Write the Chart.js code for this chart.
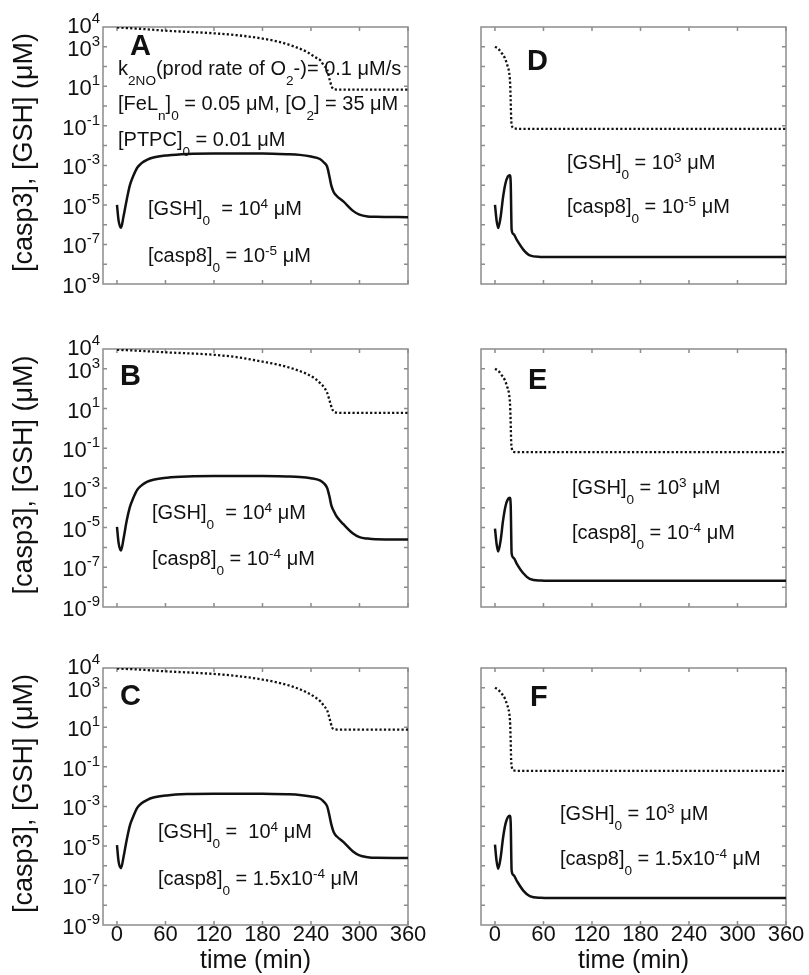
<!DOCTYPE html>
<html>
<head>
<meta charset="utf-8">
<script src="https://cdn.jsdelivr.net/npm/chart.js@4.4.1/dist/chart.umd.min.js"></script>
<style>
  html, body { margin: 0; padding: 0; background: #fff; }
  body { width: 809px; height: 975px; position: relative; overflow: hidden; }
  canvas { position: absolute; }
</style>
</head>
<body>
<script>
// time grids (min)
const tLongCasp = [0, 2, 5, 8, 12, 16, 20, 25, 30, 37, 45, 62, 87, 120, 180, 210, 226, 240, 251, 256, 260, 263, 265, 268, 272, 280, 292, 300, 310, 320, 360];
const tLongGsh = [0, 30, 60, 90, 120, 150, 180, 200, 220, 235, 245, 252, 256, 260, 263, 266, 269, 280, 320, 360];
const tShortCasp = [0, 2, 4, 7, 10, 13, 16, 18.3, 19.4, 20.6, 23, 27, 35, 43, 56, 70, 360];
const tShortGsh = [0, 4, 8, 12, 15, 17.5, 18.8, 19.4, 20, 21, 23, 30, 360];

// [casp3] (uM), solid lines
const casp3A = [1e-5, 1.6e-6, 7e-7, 2.5e-6, 1.8e-5, 1e-4, 2.8e-4, 7.6e-4, 1.26e-3, 1.9e-3, 2.5e-3, 3.2e-3, 3.8e-3, 4e-3, 4e-3, 3.7e-3, 3.4e-3, 2.8e-3, 2.1e-3, 1.4e-3, 8.5e-4, 2.5e-4, 1e-4, 4.5e-5, 2.8e-5, 1.5e-5, 5e-6, 3.2e-6, 2.6e-6, 2.5e-6, 2.4e-6];
const casp3B = [1.1e-5, 1.7e-6, 7e-7, 2.6e-6, 2.2e-5, 1.1e-4, 3e-4, 8e-4, 1.3e-3, 2e-3, 2.6e-3, 3.3e-3, 3.8e-3, 4e-3, 4e-3, 3.8e-3, 3.6e-3, 3.1e-3, 2.4e-3, 1.7e-3, 1e-3, 3.5e-4, 1.4e-4, 7e-5, 3.5e-5, 1.5e-5, 5e-6, 3.3e-6, 2.8e-6, 2.6e-6, 2.5e-6];
const casp3C = [1.1e-5, 1.6e-6, 7.5e-7, 2.6e-6, 2e-5, 1.1e-4, 3e-4, 8.5e-4, 1.4e-3, 2.1e-3, 2.8e-3, 3.6e-3, 4.2e-3, 4.4e-3, 4.4e-3, 4.1e-3, 3.8e-3, 3.2e-3, 2.5e-3, 1.7e-3, 1e-3, 3.2e-4, 1.3e-4, 5e-5, 3e-5, 1.6e-5, 5.2e-6, 3.3e-6, 2.7e-6, 2.5e-6, 2.45e-6];
const casp3D = [1e-5, 1.6e-6, 6.8e-7, 2.5e-6, 2.5e-5, 1.26e-4, 2.8e-4, 3.2e-4, 1.5e-4, 5.6e-7, 3.3e-7, 1.7e-7, 5.5e-8, 2.8e-8, 2.35e-8, 2.3e-8, 2.35e-8];
const casp3E = [9e-6, 1.5e-6, 6.3e-7, 2.3e-6, 2.3e-5, 1.2e-4, 2.7e-4, 3.2e-4, 1.5e-4, 5e-7, 3e-7, 1.5e-7, 5e-8, 2.6e-8, 2.15e-8, 2.1e-8, 2.1e-8];
const casp3F = [1.15e-5, 1.7e-6, 7e-7, 2.6e-6, 2.6e-5, 1.3e-4, 2.9e-4, 3.4e-4, 1.6e-4, 5.6e-7, 3.3e-7, 1.7e-7, 5.5e-8, 2.9e-8, 2.4e-8, 2.35e-8, 2.35e-8];

// [GSH] (uM), dotted lines
const gshA = [9.5e3, 8e3, 6.5e3, 5.6e3, 4.8e3, 3.8e3, 2.6e3, 1.8e3, 1e3, 5.5e2, 3e2, 2e2, 1.1e2, 70, 22, 9, 7, 6.8, 6.8, 6.8];
const gshB = [9.2e3, 8e3, 6.8e3, 6e3, 5.1e3, 3.8e3, 2.3e3, 1.6e3, 9.5e2, 5.5e2, 3.2e2, 1.8e2, 1.2e2, 62, 25, 10, 6.5, 6, 6, 6];
const gshC = [9.5e3, 8.2e3, 6.8e3, 5.9e3, 5e3, 3.9e3, 2.6e3, 1.8e3, 1.05e3, 5.8e2, 3.3e2, 2e2, 1.2e2, 72, 28, 10, 7.8, 7.6, 7.6, 7.6];
const gshD = [1e3, 8e2, 5e2, 2.8e2, 1.26e2, 50, 12.6, 2, 0.25, 0.1, 0.076, 0.071, 0.071];
const gshE = [1e3, 8e2, 5e2, 2.8e2, 1.3e2, 50, 12, 2, 0.22, 0.09, 0.066, 0.063, 0.063];
const gshF = [1e3, 8e2, 5.2e2, 3e2, 1.4e2, 55, 14, 2.2, 0.22, 0.09, 0.066, 0.063, 0.063];

// axis ticks
const yLabelExps = [4, 3, 1, -1, -3, -5, -7, -9];
const xTicks = [0, 60, 120, 180, 240, 300, 360];

const FONT = '"Liberation Sans", Arial, Helvetica, sans-serif';

// '_' prefix = subscript, '^' prefix = superscript
function partStyle(p, size, supUp) {
  if (p[0] === '_') return { s: p.slice(1), fs: size * 0.68, dy: size * 0.5 };
  if (p[0] === '^') return { s: p.slice(1), fs: size * 0.68, dy: -size * supUp };
  return { s: p, fs: size, dy: 0 };
}
function richWidth(ctx, parts, size, supUp) {
  let w = 0;
  parts.forEach(p => {
    const st = partStyle(p, size, supUp);
    ctx.font = st.fs + 'px ' + FONT;
    w += ctx.measureText(st.s).width;
  });
  return w;
}
function drawRich(ctx, x, y, parts, size, supUp) {
  ctx.textAlign = 'left';
  ctx.textBaseline = 'alphabetic';
  parts.forEach(p => {
    const st = partStyle(p, size, supUp);
    ctx.font = st.fs + 'px ' + FONT;
    ctx.fillText(st.s, x, y + st.dy);
    x += ctx.measureText(st.s).width;
  });
}

const framePlugin = {
  id: 'frame',
  beforeDatasetsDraw(chart) {
    const { ctx, chartArea: a, scales: { x, y } } = chart;
    ctx.save();
    ctx.strokeStyle = '#8c8c8c';
    ctx.lineWidth = 1.5;
    ctx.strokeRect(a.left, a.top, a.right - a.left, a.bottom - a.top);
    ctx.beginPath();
    for (let e = -8; e <= 3; e++) {
      const py = y.getPixelForValue(Math.pow(10, e));
      ctx.moveTo(a.left, py); ctx.lineTo(a.left + 4, py);
      ctx.moveTo(a.right, py); ctx.lineTo(a.right - 4, py);
    }
    xTicks.forEach(t => {
      const px = x.getPixelForValue(t);
      ctx.moveTo(px, a.bottom); ctx.lineTo(px, a.bottom - 4);
      ctx.moveTo(px, a.top); ctx.lineTo(px, a.top + 4);
    });
    ctx.stroke();
    ctx.restore();
  },
  afterDraw(chart, args, opts) {
    const { ctx, chartArea: a, scales: { x, y } } = chart;
    ctx.save();
    ctx.fillStyle = '#111';

    // panel letter
    ctx.font = 'bold 29px ' + FONT;
    ctx.textAlign = 'left';
    ctx.textBaseline = 'alphabetic';
    ctx.fillText(opts.letter, a.left + opts.letterPos[0], a.top + opts.letterPos[1]);

    // notes
    opts.notes.forEach(n => drawRich(ctx, a.left + n.dx, a.top + n.dy, n.parts, 20, 0.36));

    if (opts.yLabels) {
      yLabelExps.forEach(e => {
        const py = y.getPixelForValue(Math.pow(10, e)) + (e === 4 ? -2 : 1);
        const parts = ['10', '^' + e];
        const w = richWidth(ctx, parts, 22, 0.46);
        drawRich(ctx, a.left - 3 - w, py + 8, parts, 22, 0.46);
      });
      ctx.save();
      ctx.translate(25, (a.top + a.bottom) / 2 - 3);
      ctx.rotate(-Math.PI / 2);
      ctx.font = '27px ' + FONT;
      ctx.textAlign = 'center';
      ctx.textBaseline = 'middle';
      ctx.fillText('[casp3], [GSH] (\u03bcM)', 0, 0);
      ctx.restore();
    }

    if (opts.xLabels) {
      ctx.font = '22px ' + FONT;
      ctx.textAlign = 'center';
      ctx.textBaseline = 'alphabetic';
      xTicks.forEach(t => ctx.fillText(String(t), x.getPixelForValue(t), a.bottom + 16));
      ctx.font = '25px ' + FONT;
      ctx.fillText('time (min)', (a.left + a.right) / 2, a.bottom + 43);
    }
    ctx.restore();
  }
};

function pts(ts, vs) {
  return ts.map((t, i) => ({ x: t, y: vs[i] }));
}

const longNotesA = [
  { dx: 15, dy: 48, parts: ['k', '_2NO', '(prod rate of O', '_2', '-)= 0.1 \u03bcM/s'] },
  { dx: 15, dy: 83, parts: ['[FeL', '_n', ']', '_0', ' = 0.05 \u03bcM, [O', '_2', '] = 35 \u03bcM'] },
  { dx: 15, dy: 119, parts: ['[PTPC]', '_0', ' = 0.01 \u03bcM'] },
  { dx: 45, dy: 188, parts: ['[GSH]', '_0', '  = 10', '^4', ' \u03bcM'] },
  { dx: 45, dy: 235, parts: ['[casp8]', '_0', ' = 10', '^-5', ' \u03bcM'] }
];

const panels = [
  { id: 'A', col: 0, row: 0, tc: tLongCasp, c: casp3A, tg: tLongGsh, g: gshA, letterPos: [27, 28], notes: longNotesA },
  { id: 'B', col: 0, row: 1, tc: tLongCasp, c: casp3B, tg: tLongGsh, g: gshB, letterPos: [17, 36], notes: [
    { dx: 49, dy: 170, parts: ['[GSH]', '_0', '  = 10', '^4', ' \u03bcM'] },
    { dx: 49, dy: 216, parts: ['[casp8]', '_0', ' = 10', '^-4', ' \u03bcM'] }
  ] },
  { id: 'C', col: 0, row: 2, tc: tLongCasp, c: casp3C, tg: tLongGsh, g: gshC, letterPos: [17, 37], notes: [
    { dx: 55, dy: 170, parts: ['[GSH]', '_0', ' =  10', '^4', ' \u03bcM'] },
    { dx: 55, dy: 217, parts: ['[casp8]', '_0', ' = 1.5x10', '^-4', ' \u03bcM'] }
  ] },
  { id: 'D', col: 1, row: 0, tc: tShortCasp, c: casp3D, tg: tShortGsh, g: gshD, letterPos: [46, 43], notes: [
    { dx: 86, dy: 142, parts: ['[GSH]', '_0', ' = 10', '^3', ' \u03bcM'] },
    { dx: 86, dy: 186, parts: ['[casp8]', '_0', ' = 10', '^-5', ' \u03bcM'] }
  ] },
  { id: 'E', col: 1, row: 1, tc: tShortCasp, c: casp3E, tg: tShortGsh, g: gshE, letterPos: [47, 40], notes: [
    { dx: 91, dy: 145, parts: ['[GSH]', '_0', ' = 10', '^3', ' \u03bcM'] },
    { dx: 91, dy: 190, parts: ['[casp8]', '_0', ' = 10', '^-4', ' \u03bcM'] }
  ] },
  { id: 'F', col: 1, row: 2, tc: tShortCasp, c: casp3F, tg: tShortGsh, g: gshF, letterPos: [49, 38], notes: [
    { dx: 79, dy: 152, parts: ['[GSH]', '_0', ' = 10', '^3', ' \u03bcM'] },
    { dx: 79, dy: 197, parts: ['[casp8]', '_0', ' = 1.5x10', '^-4', ' \u03bcM'] }
  ] }
];

// page layout: canvas boxes and plot areas
const colBox = [{ left: 0, width: 440, areaL: 103, areaR: 408 }, { left: 440, width: 369, areaL: 481, areaR: 786 }];
const rowBox = [{ top: 0, height: 320, areaT: 27, areaB: 284 }, { top: 320, height: 320, areaT: 349, areaB: 607 }, { top: 640, height: 335, areaT: 668, areaB: 925 }];

panels.forEach(p => {
  const cb = colBox[p.col], rb = rowBox[p.row];
  const cv = document.createElement('canvas');
  cv.width = cb.width; cv.height = rb.height;
  cv.style.left = cb.left + 'px'; cv.style.top = rb.top + 'px';
  document.body.appendChild(cv);

  new Chart(cv.getContext('2d'), {
    type: 'line',
    data: {
      datasets: [
        {
          label: '[GSH]',
          data: pts(p.tg, p.g),
          borderColor: '#111',
          borderWidth: 2.3,
          borderDash: [2.2, 2.2],
          cubicInterpolationMode: 'monotone',
          pointRadius: 0
        },
        {
          label: '[casp3]',
          data: pts(p.tc, p.c),
          borderColor: '#111',
          borderWidth: 2.5,
          cubicInterpolationMode: 'monotone',
          pointRadius: 0
        }
      ]
    },
    options: {
      responsive: false,
      animation: false,
      events: [],
      layout: {
        padding: {
          left: cb.areaL - cb.left,
          right: cb.left + cb.width - cb.areaR,
          top: rb.areaT - rb.top,
          bottom: rb.top + rb.height - rb.areaB
        }
      },
      scales: {
        x: { type: 'linear', min: -17.3, max: 360, display: false },
        y: { type: 'logarithmic', min: 1e-9, max: 1e4, display: false }
      },
      plugins: {
        legend: { display: false },
        tooltip: { enabled: false },
        frame: {
          letter: p.id,
          letterPos: p.letterPos,
          notes: p.notes,
          yLabels: p.col === 0,
          xLabels: p.row === 2
        }
      }
    },
    plugins: [framePlugin]
  });
});
</script>
</body>
</html>
